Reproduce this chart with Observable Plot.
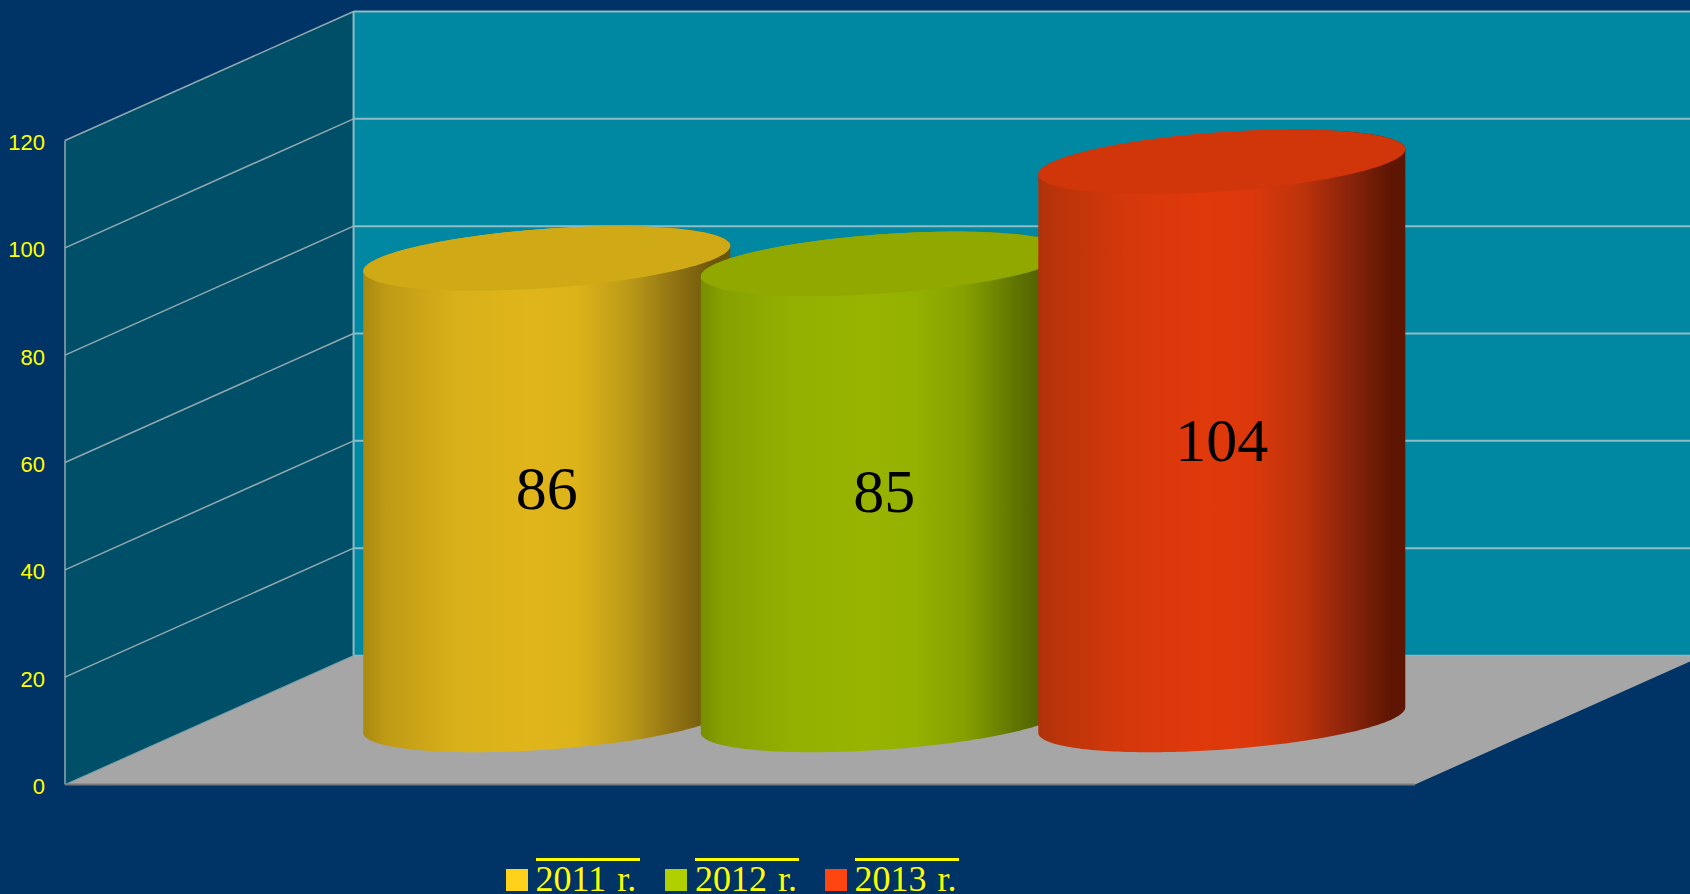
<!DOCTYPE html>
<html>
<head>
<meta charset="utf-8">
<script src="https://cdn.jsdelivr.net/npm/d3@7"></script>
<script src="https://cdn.jsdelivr.net/npm/@observablehq/plot@0.6"></script>
<style>
html,body{margin:0;padding:0;background:#003366;overflow:hidden;width:1690px;height:894px}
#legend{display:flex;height:38px;padding-left:505.5px;font:36px/36px "Liberation Serif",serif;color:#ffff00;box-sizing:border-box}
#legend .item{display:flex;align-items:flex-start;margin-right:25.5px}
#legend .sw{width:22px;height:22px;margin:13px 8px 0 0}
#legend .tx{border-top:3px solid #ffff00;width:104px;white-space:nowrap;height:32px;margin-top:2px;word-spacing:2px}
</style>
</head>
<body>
<div id="chart"></div>
<div id="legend"></div>
<script>
const categories = ["2011 r.", "2012 r.", "2013 r."];
const values = [86, 85, 104];
const yTicks = [0, 20, 40, 60, 80, 100, 120];
const swatchColors = ["#FFD11A", "#B0D000", "#FF4510"];
const topColors = ["#D0AA16", "#91A800", "#D1350A"];
const gradientStops = [
  ["#A88910", "#BE9A15", "#D8B019", "#DFB51A", "#DDB31A", "#BC9A18", "#8C7012", "#6B540B", "#6B540B"],
  ["#788E00", "#86A000", "#94B000", "#98B400", "#95B100", "#85A000", "#5F7400", "#4A5A00", "#4A5A00"],
  ["#B0320A", "#BC340A", "#D6380B", "#E0390B", "#DC380B", "#BD330C", "#85220A", "#5E1602", "#5E1602"]
];
const stopOffsets = [0, 0.06, 0.25, 0.45, 0.58, 0.72, 0.86, 0.96, 1];

// oblique projection: a depth of 1 moves a point this far in data units
const depthX = 0.855, depthY = 24.04;
const P = (x, v, d) => ({x: x + d * depthX, y: v + d * depthY});
const RX = 0.5, RD = 0.25, CD = 0.5;
const TANGENT = Math.atan2(RD * depthX, RX);

const wallSide = [P(0,0,0), P(0,120,0), P(0,120,1), P(0,0,1)];
const wallBack = [P(0,0,1), P(0,120,1), P(4,120,1), P(4,0,1)];
const floor = [P(0,0,0), P(4,0,0), P(4,0,1), P(0,0,1)];

function rim(x, v, from, to) {
  const pts = [];
  const n = 120;
  for (let i = 0; i <= n; i++) {
    const t = from + (to - from) * i / n;
    pts.push(P(x + RX * Math.cos(t), v, CD + RD * Math.sin(t)));
  }
  return pts;
}
const ellipse = (x, v) => rim(x, v, 0, 2 * Math.PI);
// silhouette: right tangent under the front of the base to the left tangent, then back along the top rim
function body(x, v) {
  const a = TANGENT;
  return [
    ...rim(x, 0, a, a - Math.PI),
    ...rim(x, v, a - Math.PI, a - 2 * Math.PI)
  ];
}

const grads = () => {
  const defs = d3.create("svg:defs");
  gradientStops.forEach((stops, i) => {
    const g = defs.append("linearGradient").attr("id", "cyl" + i)
      .attr("x1", 0).attr("x2", 1).attr("y1", 0).attr("y2", 0);
    stops.forEach((c, j) => g.append("stop").attr("offset", stopOffsets[j]).attr("stop-color", c));
  });
  return defs.node();
};

const gridColor = "#8FBBC4";
const sideGrid = "#93A9B0";

const cylinders = categories.flatMap((c, i) => {
  const x = i + 1, v = values[i];
  return [
    Plot.line(body(x, v), {x: "x", y: "y", fill: `url(#cyl${i})`, stroke: "none"}),
    Plot.line(ellipse(x, v), {x: "x", y: "y", fill: topColors[i], stroke: "none"})
  ];
});

const chart = Plot.plot({
  width: 1690,
  height: 856,
  marginLeft: 64.5,
  marginRight: 275.5,
  marginTop: 140,
  marginBottom: 72,
  style: {background: "transparent", overflow: "hidden"},
  x: {domain: [0, 4], axis: null},
  y: {domain: [0, 120], axis: null},
  marks: [
    grads,
    Plot.line(wallBack, {x: "x", y: "y", fill: "#0088A3", stroke: "none"}),
    Plot.line(wallSide, {x: "x", y: "y", fill: "#004F68", stroke: "none"}),
    Plot.line(floor, {x: "x", y: "y", fill: "#A6A6A6", stroke: "none"}),
    Plot.link(yTicks.slice(1), {
      x1: () => P(0, 0, 1).x, x2: () => P(4, 0, 1).x,
      y1: d => P(0, d, 1).y, y2: d => P(0, d, 1).y,
      stroke: gridColor, strokeWidth: 2
    }),
    Plot.link(yTicks.slice(1), {
      x1: () => P(0, 0, 0).x, x2: () => P(0, 0, 1).x,
      y1: d => P(0, d, 0).y, y2: d => P(0, d, 1).y,
      stroke: sideGrid, strokeWidth: 1.5
    }),
    Plot.link([0], {x1: () => P(0,0,0).x, x2: () => P(0,0,0).x, y1: () => 0, y2: () => 120, stroke: sideGrid, strokeWidth: 1.5}),
    Plot.link([0], {x1: () => P(0,0,1).x, x2: () => P(0,0,1).x, y1: () => P(0,0,1).y, y2: () => P(0,120,1).y, stroke: gridColor, strokeWidth: 2}),
    Plot.link([0], {x1: () => P(0,0,0).x, x2: () => P(0,0,1).x, y1: () => P(0,0,0).y, y2: () => P(0,0,1).y, stroke: "#6FA0A8", strokeWidth: 1}),
    Plot.link([0], {x1: () => P(0,0,1).x, x2: () => P(4,0,1).x, y1: () => P(0,0,1).y, y2: () => P(0,0,1).y, stroke: "#8FB8BF", strokeWidth: 1.5}),
    Plot.link([0], {x1: () => 0, x2: () => 4, y1: () => 0, y2: () => 0, stroke: "#7A7A7A", strokeWidth: 2}),
    ...cylinders,
    Plot.text(values, {
      x: (d, i) => P(i + 1, d / 2, CD).x,
      y: d => P(0, d / 2, CD).y,
      text: d => String(d),
      fontFamily: "Liberation Serif",
      fontSize: 62,
      fill: "#000",
      textAnchor: "middle",
      lineAnchor: "middle"
    }),
    Plot.axisY(yTicks, {
      anchor: "left",
      tickSize: 0,
      tickPadding: 20,
      fontSize: 22,
      fontFamily: "Liberation Sans",
      fill: "#FFFF00",
      label: null,
      dy: 2.5
    })
  ]
});
document.getElementById("chart").appendChild(chart);
chart.style.display = "block";

const legend = d3.select("#legend");
categories.forEach((c, i) => {
  const item = legend.append("div").attr("class", "item");
  item.append("div").attr("class", "sw").style("background", swatchColors[i]);
  item.append("div").attr("class", "tx").text(c);
});
</script>
</body>
</html>
